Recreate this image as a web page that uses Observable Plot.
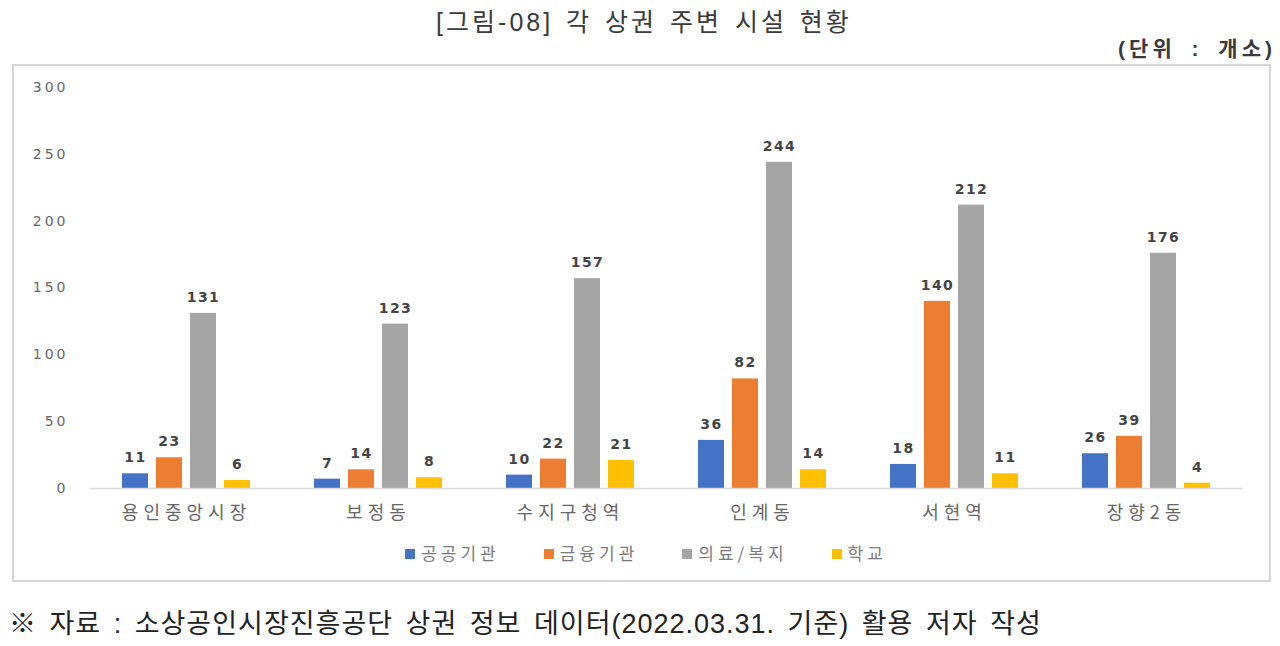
<!DOCTYPE html>
<html>
<head>
<meta charset="utf-8">
<script src="https://cdn.jsdelivr.net/npm/d3@7"></script>
<script src="https://cdn.jsdelivr.net/npm/@observablehq/plot@0.6"></script>
<style>
  body { margin: 0; background: #fff; width: 1280px; height: 646px; position: relative; overflow: hidden; }
  #title { position: absolute; top: 2px; left: 0; width: 1288px; text-align: center; font-family: "Liberation Sans", "Noto Sans CJK KR", sans-serif; font-size: 25px; color: #3a3a3a; letter-spacing: 3px; word-spacing: 3px; }
  #unit { position: absolute; top: 32px; right: 4px; font-family: "Liberation Sans", "Noto Sans CJK KR", sans-serif; font-size: 21px; color: #3a3a3a; font-weight: bold; letter-spacing: 4px; word-spacing: 6px; }
  #box { position: absolute; left: 12px; top: 64px; width: 1255px; height: 514px; border: 2px solid #d6d6d6; }
  #chart { position: absolute; left: 0; top: 0; }
  #legend { position: absolute; top: 540px; left: 0; width: 1292px; text-align: center; font-family: "Noto Sans CJK KR", sans-serif; font-size: 17px; color: #7a7a7a; letter-spacing: 4px; }
  #legend span.item { margin: 0 22px; }
  #legend span.sw { display: inline-block; width: 10px; height: 10px; margin-right: 6px; vertical-align: 1px; }
  #caption { position: absolute; top: 602px; left: 9px; font-family: "Liberation Sans", "Noto Sans CJK KR", sans-serif; font-size: 27px; color: #222; letter-spacing: 1px; word-spacing: 4px; }
</style>
</head>
<body>
<div id="title"></div>
<div id="unit"></div>
<div id="box"></div>
<div id="chart"></div>
<div id="legend"></div>
<div id="caption"></div>
<script>
const titleText = "[그림-08] 각 상권 주변 시설 현황";
const unitText = "(단위 : 개소)";
const captionText = "※ 자료 : 소상공인시장진흥공단 상권 정보 데이터(2022.03.31. 기준) 활용 저자 작성";

const categories = ["용인중앙시장", "보정동", "수지구청역", "인계동", "서현역", "장향2동"];
const seriesNames = ["공공기관", "금융기관", "의료/복지", "학교"];
const seriesColors = ["#4472C4", "#ED7D31", "#A5A5A5", "#FFC000"];
const publicInst = [11, 7, 10, 36, 18, 26];
const financeInst = [23, 14, 22, 82, 140, 39];
const medical = [131, 123, 157, 244, 212, 176];
const school = [6, 8, 21, 14, 11, 4];
const yTicks = [0, 50, 100, 150, 200, 250, 300];

const seriesValues = [publicInst, financeInst, medical, school];
const data = [];
categories.forEach((c, i) => {
  seriesNames.forEach((s, j) => {
    data.push({category: c, series: s, value: seriesValues[j][i]});
  });
});

document.getElementById("title").textContent = titleText;
document.getElementById("unit").textContent = unitText;
document.getElementById("caption").textContent = captionText;

const plot = Plot.plot({
  width: 1280,
  height: 530,
  marginTop: 87,
  marginBottom: 42,
  marginLeft: 88,
  marginRight: 37,
  style: {fontFamily: "'DejaVu Sans', 'Noto Sans CJK KR', sans-serif", background: "transparent"},
  fx: {domain: categories, padding: 0, label: null},
  x: {domain: seriesNames, axis: null, paddingInner: 0.23, paddingOuter: 0.86},
  y: {domain: [0, 300], axis: null},
  color: {domain: seriesNames, range: seriesColors},
  marks: [
    Plot.axisY({ticks: yTicks, tickSize: 0, tickPadding: 22, label: null, fontSize: 14, fill: "#666", facetAnchor: "left"}),
    Plot.axisFx({anchor: "bottom", tickSize: 0, tickPadding: 18, label: null, fontSize: 18, fill: "#666",
      fontFamily: "'Noto Sans CJK KR', sans-serif"}),
    Plot.barY(data, {fx: "category", x: "series", y: "value", fill: "series"}),
    Plot.ruleY([0], {stroke: "#d9d9d9", strokeWidth: 1.5}),
    Plot.text(data, {fx: "category", x: "series", y: "value", text: d => String(d.value), dy: -16,
      fontSize: 14, fontWeight: "bold", fill: "#444"})
  ]
});
document.getElementById("chart").appendChild(plot);

d3.select(plot).selectAll('g[aria-label="fx-axis tick label"] text').style("letter-spacing", "5px");
d3.select(plot).selectAll('g[aria-label="y-axis tick label"] text').style("letter-spacing", "3px");
d3.select(plot).selectAll('g[aria-label="text"] text').style("letter-spacing", "1.5px");

const legend = document.getElementById("legend");
seriesNames.forEach((s, i) => {
  const item = document.createElement("span");
  item.className = "item";
  const sw = document.createElement("span");
  sw.className = "sw";
  sw.style.background = seriesColors[i];
  item.appendChild(sw);
  item.appendChild(document.createTextNode(s));
  legend.appendChild(item);
});
</script>
</body>
</html>
